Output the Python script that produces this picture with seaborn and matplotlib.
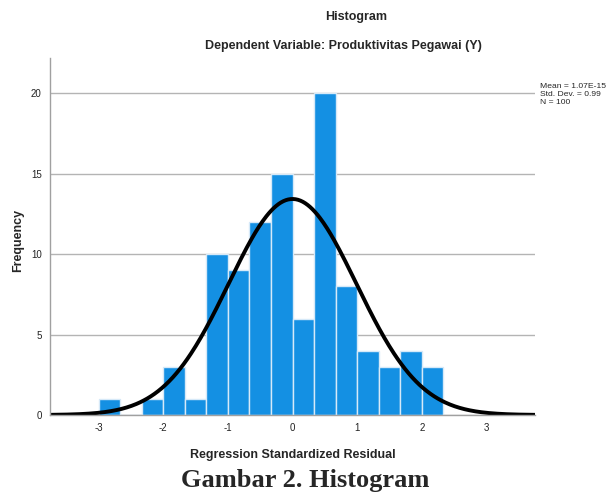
import numpy as np
import seaborn as sns
import matplotlib.pyplot as plt

# bin edges (width 1/3) and counts
bin_edges = [-3 + i / 3 for i in range(17)]
counts = [1, 0, 1, 3, 1, 10, 9, 12, 15, 6, 20, 8, 4, 3, 4, 3]
mean = 1.07e-15
std = 0.99
n = 100

centers = [(bin_edges[i] + bin_edges[i + 1]) / 2 for i in range(len(counts))]

sns.set_style("white")
plt.rcParams["font.family"] = ["Liberation Sans", "DejaVu Sans"]
plt.rcParams["axes.unicode_minus"] = False

fig = plt.figure(figsize=(6.08, 4.93), dpi=100)
ax = fig.add_axes([50 / 608, 1 - 415 / 493, 485 / 608, 357 / 493])

ax.set_axisbelow(True)
ax.yaxis.grid(True, color="#b4b4b4", linewidth=1)
sns.histplot(x=centers, weights=counts, bins=bin_edges, ax=ax,
             color="#1490e3", alpha=1, edgecolor="#d6e9f8", linewidth=1)

xs = np.linspace(-3.75, 3.75, 400)
width = 1 / 3
ys = n * width / (std * np.sqrt(2 * np.pi)) * np.exp(-0.5 * ((xs - mean) / std) ** 2)
ax.plot(xs, ys, color="black", linewidth=2.8, solid_capstyle="round")

ax.set_xlim(-3.75, 3.75)
ax.set_ylim(0, 22.2)
ax.set_xticks([-3, -2, -1, 0, 1, 2, 3])
ax.set_yticks([0, 5, 10, 15, 20])
ax.tick_params(length=0, labelsize=7, pad=6, labelcolor="#222222")
for s in ["top", "right"]:
    ax.spines[s].set_visible(False)
for s in ["left", "bottom"]:
    ax.spines[s].set_color("#a0a0a0")
    ax.spines[s].set_linewidth(1)
ax.set_xlabel("")
ax.set_ylabel("")

fig.text(18 / 608, 1 - 240 / 493, "Frequency", rotation=90, ha="center",
         va="center", fontsize=9, fontweight="bold")
fig.text(293 / 608, 1 - 455 / 493, "Regression Standardized Residual",
         ha="center", va="center", fontsize=9, fontweight="bold")
fig.text(356 / 608, 1 - 17 / 493, "Histogram", ha="center", va="center",
         fontsize=9, fontweight="bold")
fig.text(343 / 608, 1 - 46 / 493, "Dependent Variable: Produktivitas Pegawai (Y)",
         ha="center", va="center", fontsize=9, fontweight="bold")
fig.text(540 / 608, 1 - 95 / 493,
         "Mean = 1.07E-15\nStd. Dev. = 0.99\nN = 100",
         ha="left", va="center", fontsize=6.1, linespacing=1.2)
fig.text(305 / 608, 1 - 480 / 493, "Gambar 2. Histogram", ha="center",
         va="center", fontsize=19, fontweight="bold",
         family=["Liberation Serif", "DejaVu Serif"])

fig.savefig("out.png", dpi=100)
